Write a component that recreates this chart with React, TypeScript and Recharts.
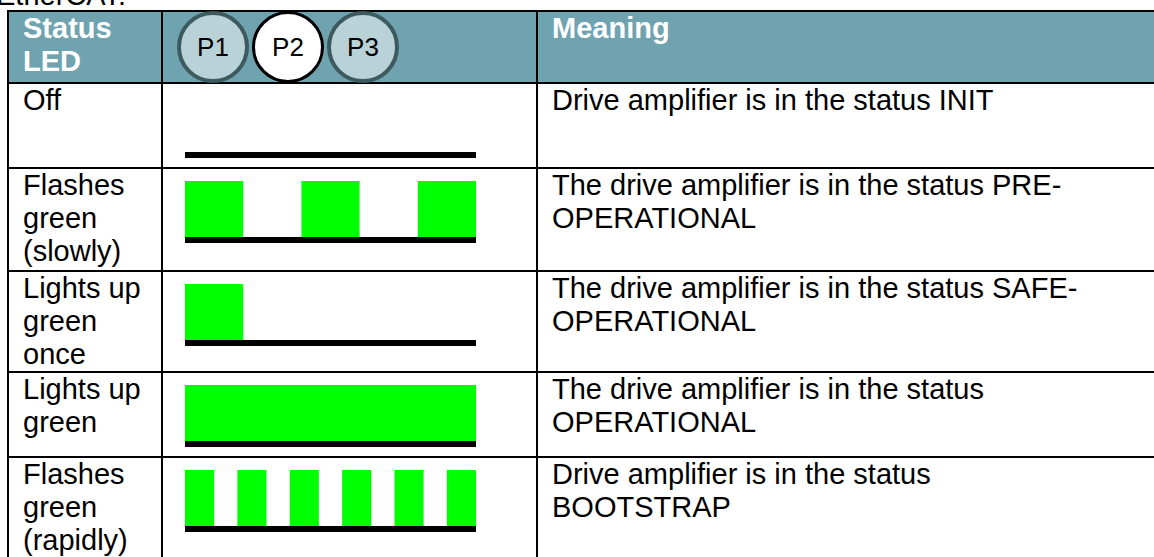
import React from "react";
import { ComposedChart, Area, XAxis, YAxis, ReferenceArea } from "recharts";

// LED table rows
const statusLabels = [
  ["Off"],
  ["Flashes", "green", "(slowly)"],
  ["Lights up", "green", "once"],
  ["Lights up", "green"],
  ["Flashes", "green", "(rapidly)"],
];

const meanings = [
  ["Drive amplifier is in the status INIT"],
  ["The drive amplifier is in the status PRE-", "OPERATIONAL"],
  ["The drive amplifier is in the status SAFE-", "OPERATIONAL"],
  ["The drive amplifier is in the status", "OPERATIONAL"],
  ["Drive amplifier is in the status", "BOOTSTRAP"],
];

const ports = ["P1", "P2", "P3"];
const activePort = "P2";

// LED signal over time (0..10 units), level held until next time (step)
const offTimes = [0, 10];
const offLevels = [0, 0];
const slowTimes = [0, 2, 4, 6, 8, 10];
const slowLevels = [1, 0, 1, 0, 1, 1];
const onceTimes = [0, 2, 10];
const onceLevels = [1, 0, 0];
const onTimes = [0, 10];
const onLevels = [1, 1];
const rapidTimes = [0, 1, 1.8, 2.8, 3.6, 4.6, 5.4, 6.4, 7.2, 8.2, 9, 10];
const rapidLevels = [1, 0, 1, 0, 1, 0, 1, 0, 1, 0, 1, 1];

const signals = [
  [offTimes, offLevels],
  [slowTimes, slowLevels],
  [onceTimes, onceLevels],
  [onTimes, onLevels],
  [rapidTimes, rapidLevels],
];

const FONT = '"Liberation Sans", Arial, sans-serif';
const HEADER_BG = "#70A3B0";
const GREEN = "#00FF00";
const BASE_LOW = -0.107; // black base strip below the signal

const headerTop = 11;
const rowLines = [83, 168, 271, 372, 457, 560];
const colLines = [8, 162, 537];

function LedChart({ times, levels }: { times: number[]; levels: number[] }) {
  const data = times.map((t, i) => ({ t, on: levels[i] }));
  return (
    <ComposedChart width={291} height={62} data={data} margin={{ top: 0, right: 0, bottom: 0, left: 0 }}>
      <XAxis dataKey="t" type="number" domain={[0, 10]} hide />
      <YAxis type="number" domain={[BASE_LOW, 1]} hide />
      <ReferenceArea y1={BASE_LOW} y2={0} fill="#000" fillOpacity={1} stroke="none" ifOverflow="visible" />
      <Area
        type="stepAfter"
        dataKey="on"
        fill={GREEN}
        fillOpacity={1}
        stroke="none"
        dot={false}
        activeDot={false}
        isAnimationActive={false}
      />
    </ComposedChart>
  );
}

const textStyle: React.CSSProperties = {
  position: "absolute",
  fontFamily: FONT,
  fontSize: 29,
  lineHeight: "33px",
  color: "#000",
  whiteSpace: "nowrap",
};

export default function App() {
  const allTops = [headerTop, ...rowLines];
  return (
    <div style={{ position: "relative", width: 1154, height: 557, overflow: "hidden", background: "#fff" }}>
      <style>{"body{margin:0}"}</style>

      <div style={{ ...textStyle, left: -4, top: -21 }}>EtherCAT:</div>

      {/* header band */}
      <div style={{ position: "absolute", left: 8, top: headerTop, width: 1146, height: rowLines[0] - headerTop, background: HEADER_BG }} />

      {/* grid lines */}
      {allTops.map((y, i) => (
        <div key={"h" + i} style={{ position: "absolute", left: 7, top: y - 1, width: 1147, height: 2, background: "#000" }} />
      ))}
      {colLines.map((x, i) => (
        <div key={"v" + i} style={{ position: "absolute", left: x - 1, top: headerTop - 1, width: 2, height: 600, background: "#000" }} />
      ))}

      {/* header text */}
      <div style={{ ...textStyle, left: 23, top: headerTop + 1, color: "#fff", fontWeight: 700 }}>
        Status
        <br />
        LED
      </div>
      <div style={{ ...textStyle, left: 552, top: headerTop + 1, color: "#fff", fontWeight: 700 }}>Meaning</div>

      {ports.map((p, i) => {
        const active = p === activePort;
        return (
          <div
            key={p}
            style={{
              position: "absolute",
              left: 213 + i * 75 - 36,
              top: 11,
              width: 72,
              height: 72,
              boxSizing: "border-box",
              borderRadius: "50%",
              border: active ? "3.5px solid #000" : "4px solid #3D5A5E",
              background: active ? "#fff" : "#B8D2D7",
              display: "flex",
              alignItems: "center",
              justifyContent: "center",
              fontFamily: FONT,
              fontSize: 26,
              color: "#000",
            }}
          >
            {p}
          </div>
        );
      })}

      {statusLabels.map((lines, r) => (
        <React.Fragment key={r}>
          <div style={{ ...textStyle, left: 23, top: rowLines[r] + 1 }}>
            {lines.map((l, k) => (
              <div key={k}>{l}</div>
            ))}
          </div>
          <div style={{ ...textStyle, left: 552, top: rowLines[r] + 1 }}>
            {meanings[r].map((l, k) => (
              <div key={k}>{l}</div>
            ))}
          </div>
          <div style={{ position: "absolute", left: 185, top: rowLines[r] + 13 }}>
            <LedChart times={signals[r][0]} levels={signals[r][1]} />
          </div>
        </React.Fragment>
      ))}
    </div>
  );
}
